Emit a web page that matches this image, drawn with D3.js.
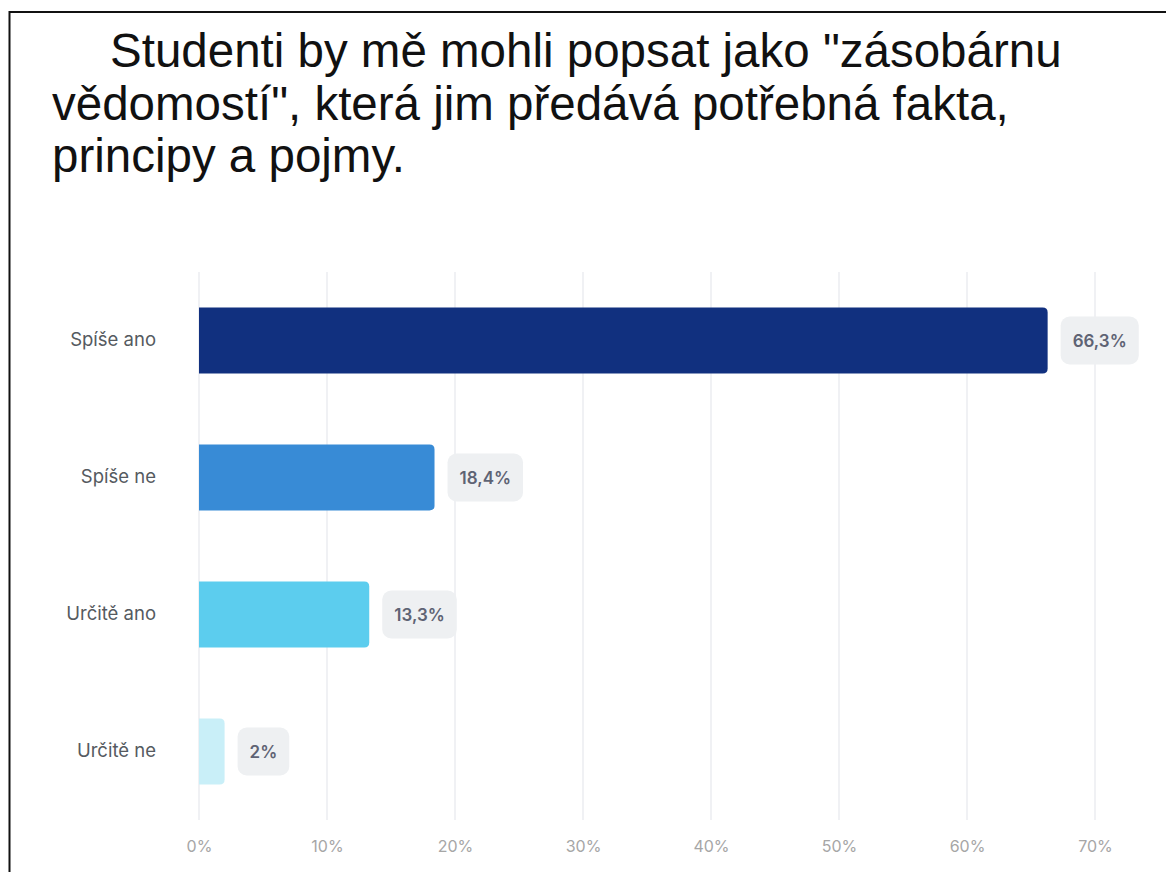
<!DOCTYPE html>
<html>
<head>
<meta charset="utf-8">
<script src="https://cdn.jsdelivr.net/npm/d3@7/dist/d3.min.js"></script>
<style>
  html, body { margin: 0; padding: 0; background: #fff; }
  svg { display: block; }
</style>
</head>
<body>
<script>
// Survey answers and shares (%)
const categories = ["Spíše ano", "Spíše ne", "Určitě ano", "Určitě ne"];
const values = [66.3, 18.4, 13.3, 2];
const valueLabels = ["66,3%", "18,4%", "13,3%", "2%"];
const barColors = ["#11307f", "#388bd6", "#5ccdee", "#c9eff8"];
const tickValues = [0, 10, 20, 30, 40, 50, 60, 70];
const titleLines = [
  "Studenti by mě mohli popsat jako \"zásobárnu",
  "vědomostí\", která jim předává potřebná fakta,",
  "principy a pojmy."
];

const W = 1166, H = 872;
const svg = d3.select("body").append("svg").attr("width", W).attr("height", H);
const uiFont = "Inter, 'Noto Sans', sans-serif";

// Frame
svg.append("line").attr("x1", 9.5).attr("x2", 9.5).attr("y1", 11).attr("y2", H)
  .attr("stroke", "#111").attr("stroke-width", 2);
svg.append("line").attr("x1", 9).attr("x2", W).attr("y1", 12).attr("y2", 12)
  .attr("stroke", "#111").attr("stroke-width", 2);

// Title
const titleX = [110, 52, 52];
const titleY = [67, 120, 172];
svg.append("g").selectAll("text").data(titleLines).join("text")
  .attr("x", (d, i) => titleX[i])
  .attr("y", (d, i) => titleY[i])
  .attr("font-family", "'Liberation Sans', Arial, sans-serif")
  .attr("font-size", 47.5)
  .attr("fill", "#111")
  .text(d => d);

// Scales
const x = d3.scaleLinear().domain([0, 70]).range([199, 1095]);
const y = d3.scaleBand().domain(categories).range([272, 820]).paddingInner(0.52).paddingOuter(0.26);

// Grid lines
svg.append("g").selectAll("line").data(tickValues).join("line")
  .attr("x1", d => x(d)).attr("x2", d => x(d))
  .attr("y1", 272).attr("y2", 820)
  .attr("stroke", "#ebedf0").attr("stroke-width", 1.5);

// X axis labels
const xAxis = d3.axisBottom(x).tickValues(tickValues).tickFormat(d => d + "%").tickSize(0).tickPadding(0);
const gx = svg.append("g").attr("transform", "translate(0,846)").call(xAxis);
gx.select(".domain").remove();
gx.selectAll("text")
  .attr("dy", "0.35em")
  .attr("font-family", uiFont)
  .attr("font-size", 16).attr("fill", "#a6a6a6");

// Y axis labels
const yAxis = d3.axisLeft(y).tickSize(0).tickPadding(0);
const gy = svg.append("g").attr("transform", "translate(156,0)").call(yAxis);
gy.select(".domain").remove();
gy.selectAll("text")
  .attr("font-family", uiFont)
  .attr("font-size", 18.5).attr("fill", "#555a60");

// Bars: square at the baseline, rounded at the end
const r = 5;
function barPath(x0, x1, y0, h) {
  const rr = Math.min(r, (x1 - x0) / 2);
  return `M${x0},${y0}H${x1 - rr}Q${x1},${y0} ${x1},${y0 + rr}V${y0 + h - rr}Q${x1},${y0 + h} ${x1 - rr},${y0 + h}H${x0}Z`;
}
const data = categories.map((c, i) => ({ c, v: values[i], label: valueLabels[i], color: barColors[i] }));
svg.append("g").selectAll("path").data(data).join("path")
  .attr("d", d => barPath(x(0), x(d.v), y(d.c), y.bandwidth()))
  .attr("fill", d => d.color);

// Value badges
const badges = svg.append("g").selectAll("g").data(data).join("g")
  .attr("transform", d => `translate(${x(d.v) + 13},${y(d.c) + y.bandwidth() / 2})`);
const badgeText = badges.append("text")
  .attr("font-family", uiFont)
  .attr("font-size", 17).attr("font-weight", 600)
  .attr("fill", "#5e6374")
  .attr("dominant-baseline", "central")
  .text(d => d.label);
badgeText.each(function () {
  const w = this.getComputedTextLength();
  const pad = 12;
  d3.select(this).attr("x", pad);
  d3.select(this.parentNode).insert("rect", "text")
    .attr("x", 0).attr("y", -24).attr("width", w + pad * 2).attr("height", 48)
    .attr("rx", 9).attr("fill", "#eef0f2");
});
</script>
</body>
</html>
